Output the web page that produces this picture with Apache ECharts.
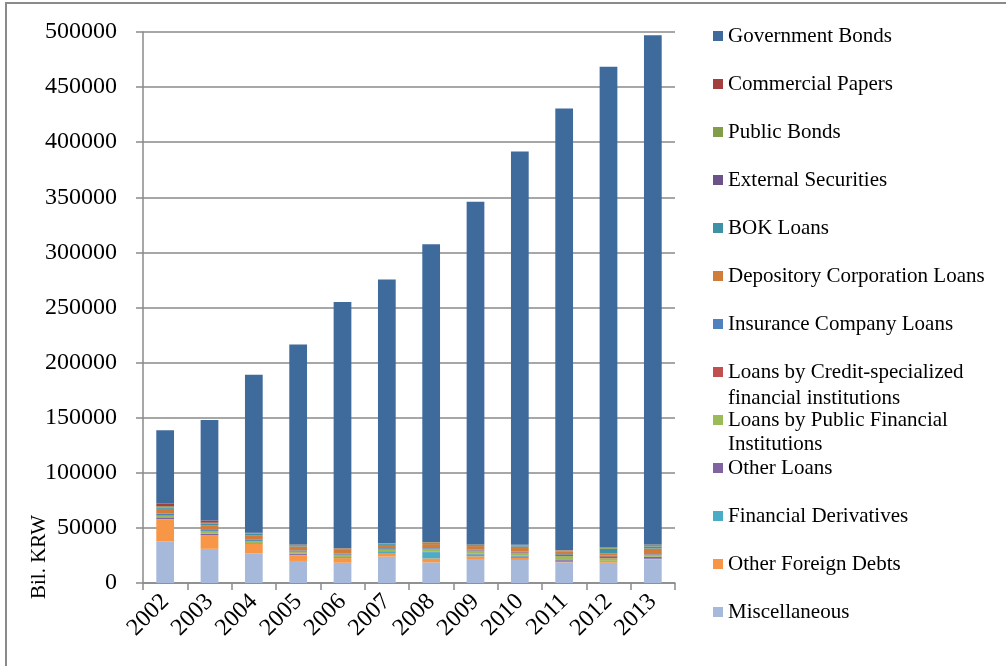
<!DOCTYPE html>
<html>
<head>
<meta charset="utf-8">
<script src="https://cdn.jsdelivr.net/npm/echarts@6/dist/echarts.min.js"></script>
<style>
html,body{margin:0;padding:0;background:#fff;}
#chart{width:1006px;height:666px;}
</style>
</head>
<body>
<div id="chart"></div>
<script>
var years = ['2002','2003','2004','2005','2006','2007','2008','2009','2010','2011','2012','2013'];
var yTicks = [0, 50000, 100000, 150000, 200000, 250000, 300000, 350000, 400000, 450000, 500000];

var governmentBonds = [66200, 91300, 143300, 181500, 223200, 239300, 270400, 311000, 356900, 400600, 436300, 462000];
var commercialPapers = [2700, 2000, 300, 300, 300, 300, 300, 200, 200, 200, 200, 200];
var publicBonds = [1000, 500, 300, 300, 300, 300, 500, 300, 300, 300, 900, 1500];
var externalSecurities = [300, 300, 200, 200, 200, 200, 200, 200, 200, 200, 200, 200];
var bokLoans = [1000, 1500, 1500, 1000, 800, 800, 800, 800, 900, 600, 4200, 1800];
var depositoryLoans = [4500, 3600, 4200, 3600, 3600, 3000, 3600, 3300, 4500, 2500, 1800, 5100];
var insuranceLoans = [1500, 1500, 1000, 1000, 800, 800, 600, 600, 600, 700, 600, 400];
var creditSpecializedLoans = [500, 500, 400, 600, 500, 500, 500, 500, 600, 1000, 1800, 500];
var publicFinancialLoans = [1200, 2000, 1500, 1500, 1800, 1500, 2100, 2500, 2500, 3500, 2400, 1500];
var otherLoans = [1500, 1500, 500, 1000, 600, 600, 500, 600, 600, 700, 500, 1800];
var financialDerivatives = [300, 300, 300, 400, 300, 1000, 5700, 1800, 1500, 1200, 300, 200];
var otherForeignDebts = [20000, 12000, 8500, 5100, 4200, 3300, 3600, 2400, 1800, 300, 900, 300];
var miscellaneous = [37800, 31000, 27000, 20000, 18400, 23900, 18700, 21800, 20900, 18700, 18400, 21500];

// bottom-to-top stacking order
var seriesDefs = [
  {name: 'Miscellaneous', data: miscellaneous, color: '#A6B9DA'},
  {name: 'Other Foreign Debts', data: otherForeignDebts, color: '#F79646'},
  {name: 'Financial Derivatives', data: financialDerivatives, color: '#4BACC6'},
  {name: 'Other Loans', data: otherLoans, color: '#8064A2'},
  {name: 'Loans by Public Financial Institutions', data: publicFinancialLoans, color: '#9BBB59'},
  {name: 'Loans by Credit-specialized financial institutions', data: creditSpecializedLoans, color: '#C0504D'},
  {name: 'Insurance Company Loans', data: insuranceLoans, color: '#4F81BD'},
  {name: 'Depository Corporation Loans', data: depositoryLoans, color: '#D07D3A'},
  {name: 'BOK Loans', data: bokLoans, color: '#3F91A6'},
  {name: 'External Securities', data: externalSecurities, color: '#6B5389'},
  {name: 'Public Bonds', data: publicBonds, color: '#819D4A'},
  {name: 'Commercial Papers', data: commercialPapers, color: '#A3403D'},
  {name: 'Government Bonds', data: governmentBonds, color: '#3F6A9C'}
];

var legendFirstLine = {
  'Loans by Credit-specialized financial institutions': 'Loans by Credit-specialized',
  'Loans by Public Financial Institutions': 'Loans by Public Financial'
};

var FONT = "'Liberation Serif','Times New Roman',serif";
var chart = echarts.init(document.getElementById('chart'), null, {renderer: 'canvas'});

var series = seriesDefs.map(function (s) {
  return {
    name: s.name,
    type: 'bar',
    stack: 'total',
    barWidth: '40%',
    data: s.data,
    itemStyle: {color: s.color},
    emphasis: {disabled: true}
  };
});

chart.setOption({
  animation: false,
  backgroundColor: '#fff',
  grid: {left: 143, right: 331, top: 32, bottom: 83, containLabel: false},
  legend: {
    orient: 'vertical',
    left: 713,
    top: 24,
    padding: 0,
    itemWidth: 10,
    itemHeight: 10,
    itemGap: 24,
    icon: 'rect',
    selectedMode: false,
    data: seriesDefs.slice().reverse().map(function (s) { return s.name; }),
    formatter: function (n) { return legendFirstLine[n] || n; },
    textStyle: {fontFamily: FONT, fontSize: 21, color: '#000', lineHeight: 24, padding: [0, 0, 0, 0]}
  },
  xAxis: {
    type: 'category',
    data: years,
    boundaryGap: true,
    axisLine: {show: true, lineStyle: {color: '#8a8a8a', width: 1.5}},
    axisTick: {show: true, length: 7, alignWithLabel: false, lineStyle: {color: '#8a8a8a', width: 1.5}},
    axisLabel: {rotate: 45, margin: 15, fontFamily: FONT, fontSize: 24, color: '#000'}
  },
  yAxis: {
    type: 'value',
    min: yTicks[0],
    max: yTicks[yTicks.length - 1],
    interval: yTicks[1] - yTicks[0],
    axisLine: {show: true, lineStyle: {color: '#8a8a8a', width: 1.5}},
    axisTick: {show: true, length: 7, lineStyle: {color: '#8a8a8a', width: 1.5}},
    splitLine: {show: true, lineStyle: {color: '#8a8a8a', width: 1.5}},
    axisLabel: {margin: 26, fontFamily: FONT, fontSize: 24, color: '#000', formatter: function (v) { return String(v); }}
  },
  graphic: [
    {type: 'rect', shape: {x: 6, y: 3, width: 1200, height: 900}, style: {fill: 'none', stroke: '#8a8a8a', lineWidth: 2}, silent: true},
    {type: 'text', x: 39, y: 557, rotation: Math.PI / 2, style: {text: 'Bil. KRW', fontFamily: FONT, fontSize: 21, fill: '#000', align: 'center', verticalAlign: 'middle'}},
    {type: 'text', x: 728, y: 398, style: {text: 'financial institutions', fontFamily: FONT, fontSize: 21, fill: '#000', align: 'left', verticalAlign: 'middle'}},
    {type: 'text', x: 728, y: 444, style: {text: 'Institutions', fontFamily: FONT, fontSize: 21, fill: '#000', align: 'left', verticalAlign: 'middle'}}
  ],
  series: series
});
</script>
</body>
</html>
